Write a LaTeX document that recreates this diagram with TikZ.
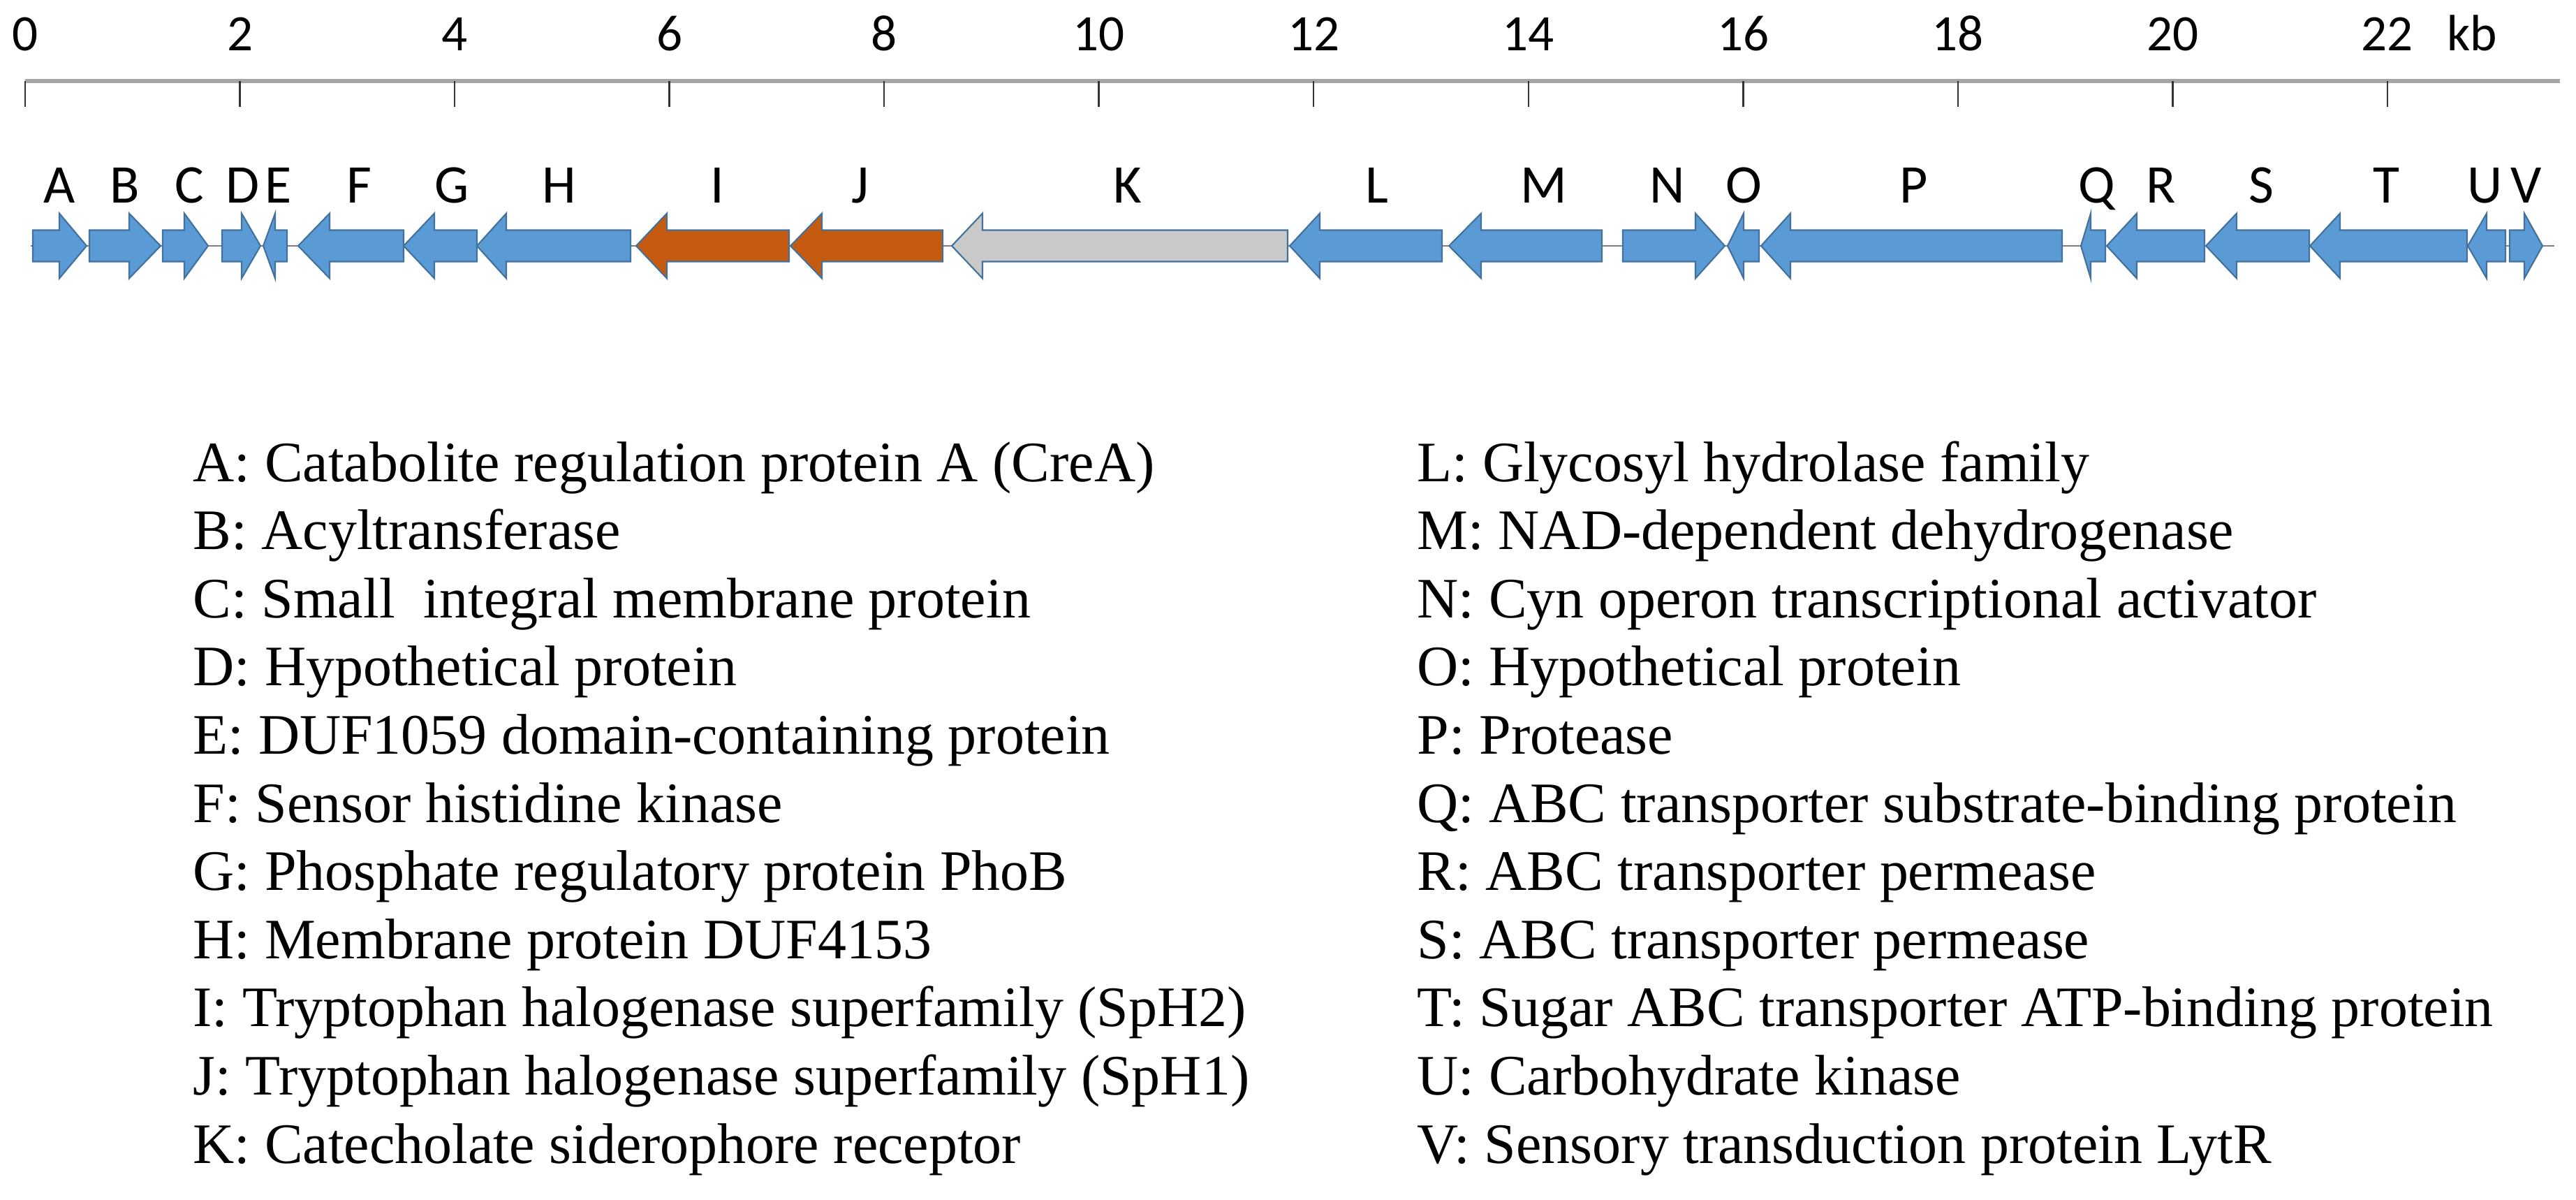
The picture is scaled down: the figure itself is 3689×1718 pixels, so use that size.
\documentclass[tikz,border=0pt]{standalone}
\usepackage{fontspec}
\usepackage{graphicx}
\setmainfont{Liberation Serif}
\newfontfamily\calibfont{Carlito}
\definecolor{geneblue}{HTML}{5B9BD5}
\definecolor{geneorange}{HTML}{C55A11}
\definecolor{genegrey}{HTML}{C9C9C9}
\definecolor{geneedge}{HTML}{41719C}
\definecolor{axisgrey}{HTML}{A6A6A6}
\definecolor{linegrey}{HTML}{7F7F7F}
\tikzset{
  genebox/.style={draw=geneedge, line width=0.6pt, line join=miter, fill=#1},
  axisline/.style={draw=axisgrey, line width=1.7pt},
  tickline/.style={draw=black!80, line width=0.7pt},
  spine/.style={draw=linegrey, line width=0.8pt},
  ticklab/.style={anchor=base, inner sep=0pt, font=\calibfont\fontsize{20.8}{24}\selectfont},
  genelab/.style={anchor=base, inner sep=0pt, font=\calibfont\fontsize{22.2}{26}\selectfont},
  legendtext/.style={anchor=base west, inner sep=0pt, font=\fontsize{23.3}{28}\selectfont}
}
% tail, head base, tip, colour
\newcommand{\genearrow}[4]{%
  \draw[genebox=#4] (#1,329.5) -- (#2,329.5) -- (#2,305.5) -- (#3,352) -- (#2,398.5) -- (#2,374.5) -- (#1,374.5) -- cycle;}
\begin{document}
\begin{tikzpicture}[x=0.01cm,y=-0.01cm]
\useasboundingbox (0,0) rectangle (3689,1718);
% scale axis
\draw[axisline] (36,116) coordinate (axL) -- (3666,116) coordinate (axR);
\foreach \k in {0,2,...,22}{
  \draw[tickline] (36+153.77*\k,116) -- (36+153.77*\k,153);
  \node[ticklab] (t\k) at (36+153.77*\k,72) {\k};
}
\node[ticklab] (kb) at (3540,72) {kb};
% gene spine
\draw[spine] (44,352) coordinate (spL) -- (3658,352) coordinate (spR);
% genes
\genearrow{47}{85}{124}{geneblue}
\genearrow{128}{185}{230}{geneblue}
\genearrow{233}{264}{298}{geneblue}
\genearrow{318}{346}{373}{geneblue}
\genearrow{411}{394}{377}{geneblue}
\genearrow{578}{472}{427}{geneblue}
\genearrow{683}{622}{578}{geneblue}
\genearrow{903}{725}{683}{geneblue}
\genearrow{1130}{955}{911}{geneorange}
\genearrow{1350}{1177}{1132}{geneorange}
\genearrow{1844}{1407}{1363}{genegrey}
\genearrow{2065}{1890}{1847}{geneblue}
\genearrow{2294}{2121}{2075}{geneblue}
\genearrow{2324}{2428}{2470}{geneblue}
\genearrow{2519}{2497}{2474}{geneblue}
\genearrow{2953}{2564}{2522}{geneblue}
\genearrow{3015}{2994}{2980}{geneblue}
\genearrow{3157}{3060}{3017}{geneblue}
\genearrow{3307}{3203}{3159}{geneblue}
\genearrow{3533}{3351}{3308}{geneblue}
\genearrow{3588}{3561}{3534}{geneblue}
\genearrow{3594}{3615}{3641}{geneblue}
% gene letters
\foreach \l/\x in {A/85,B/179,C/271,D/348,E/399,F/514,G/647,H/801,I/1027,J/1232,K/1615,L/1972,M/2211,N/2388,O/2497,P/2741,Q/3003,R/3095,S/3238,T/3417,U/3559,V/3618}{
  \node[genelab] (g\l) at (\x,290) {\l};
}
% legend, left column
\foreach \t [count=\i from 0] in {
  {A: Catabolite regulation protein A (CreA)},
  {B: Acyltransferase},
  {C: Small~ integral membrane protein},
  {D: Hypothetical protein},
  {E: DUF1059 domain-containing protein},
  {F: Sensor histidine kinase},
  {G: Phosphate regulatory protein PhoB},
  {H: Membrane protein DUF4153},
  {I: Tryptophan halogenase superfamily (SpH2)},
  {J: Tryptophan halogenase superfamily (SpH1)},
  {K: Catecholate siderophore receptor}}{
  \node[legendtext] (la\i) at (276,689+97.6*\i) {\t};
}
% legend, right column
\foreach \t [count=\i from 0] in {
  {L: Glycosyl hydrolase family},
  {M: NAD-dependent dehydrogenase},
  {N: Cyn operon transcriptional activator},
  {O: Hypothetical protein},
  {P: Protease},
  {Q: ABC transporter substrate-binding protein},
  {R: ABC transporter permease},
  {S: ABC transporter permease},
  {T: Sugar ABC transporter ATP-binding protein},
  {U: Carbohydrate kinase},
  {V: Sensory transduction protein LytR}}{
  \node[legendtext] (lb\i) at (2029,689+97.6*\i) {\t};
}
\end{tikzpicture}
\end{document}
